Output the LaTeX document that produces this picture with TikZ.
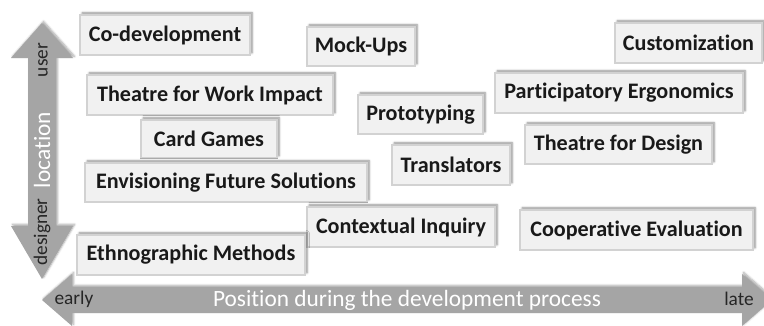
\documentclass[tikz,border=0pt]{standalone}
\usepackage{fontspec}
\setmainfont{Carlito}[Ligatures={NoCommon}]
\usetikzlibrary{shadows.blur}
\definecolor{boxfill}{HTML}{F1F1F1}
\definecolor{boxline}{HTML}{D2D2D2}
\definecolor{arrowgray}{HTML}{A5A5A5}
\tikzset{
  method/.style 2 args={draw=boxline, line width=0.8pt, fill=boxfill, inner sep=0pt,
    minimum width={#1*0.75pt}, minimum height={#2*0.75pt},
    font=\bfseries\fontsize{16.6}{18}\selectfont, text=black!90,
    blur shadow={shadow xshift=1.6pt, shadow yshift=1.6pt, shadow blur steps=6, shadow opacity=45, shadow blur radius=1.6pt}},
  bigarrow/.style={fill=arrowgray, draw=none,
    blur shadow={shadow xshift=1.2pt, shadow yshift=1.2pt, shadow blur steps=6, shadow opacity=35, shadow blur radius=1.5pt}},
  axislabel/.style={font=\fontsize{14.5}{16}\selectfont, text=black!85, inner sep=0pt},
  axistitle/.style={font=\fontsize{17.5}{19}\selectfont, text=white, inner sep=0pt}
}
\begin{document}
\begin{tikzpicture}[x=0.75pt, y=-0.75pt]
\useasboundingbox (0,0) rectangle (764,325);
% vertical double arrow
\path[bigarrow] (42,23) -- (73,58) -- (56,58) -- (56,226) -- (73,226) -- (42,279)
  -- (11,226) -- (28,226) -- (28,58) -- (11,58) -- cycle;
% horizontal double arrow
\begin{scope}
\clip (0,0) rectangle (764,325);
\path[bigarrow] (42,300) -- (72,274) -- (72,287) -- (742,287) -- (742,274) -- (772,300)
  -- (742,326) -- (742,313) -- (72,313) -- (72,326) -- cycle;
\end{scope}
\node[axislabel, rotate=90] (user) at (43,60) {user};
\node[axistitle, rotate=90] (location) at (42,150) {location};
\node[axislabel, rotate=90] (designer) at (42,232) {designer};
\node[axislabel] (early) at (74,299) {early};
\node[axislabel] (late) at (739,299) {late};
\node[axistitle] (position) at (407,300) {Position during the development process};
% methods
\node[method={170}{40}] (codev) at (165,35) {Co-development};
\node[method={108}{39}] (mock) at (361,46.5) {Mock-Ups};
\node[method={147}{40}] (custom) at (688.5,43) {Customization};
\node[method={246}{40}] (twi) at (210,95) {Theatre for Work Impact};
\node[method={248}{40}] (pe) at (619,93) {Participatory Ergonomics};
\node[method={125}{39}] (proto) at (420.5,114.5) {Prototyping};
\node[method={136}{38}] (card) at (209,139) {Card Games};
\node[method={187}{39}] (tfd) at (618.5,144.5) {Theatre for Design};
\node[method={118}{40}] (trans) at (451,165) {Translators};
\node[method={282}{39}] (env) at (226,182.5) {Envisioning Future Solutions};
\node[method={188}{40}] (ci) at (401,227) {Contextual Inquiry};
\node[method={233}{40}] (ce) at (636.5,230) {Cooperative Evaluation};
\node[method={228}{40}] (eth) at (191,255) {Ethnographic Methods};
\end{tikzpicture}
\end{document}
